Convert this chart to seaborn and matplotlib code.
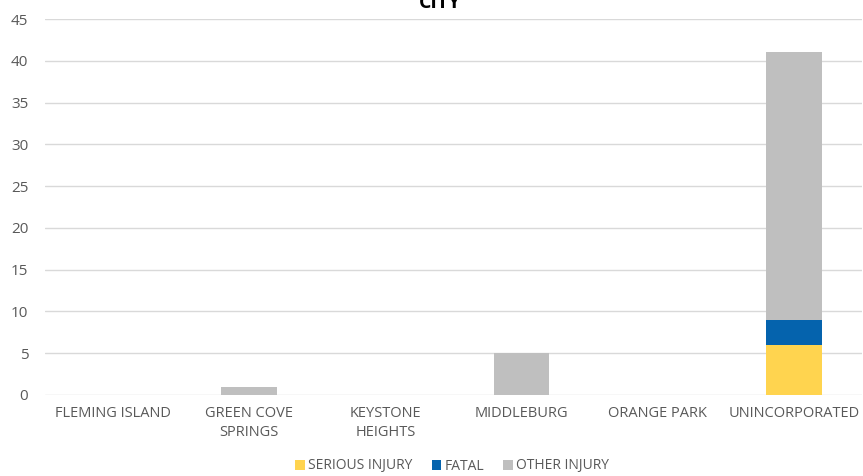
import matplotlib
matplotlib.use("Agg")
import matplotlib.pyplot as plt
import seaborn as sns
import pandas as pd
import numpy as np

cities = ["FLEMING ISLAND", "GREEN COVE\nSPRINGS", "KEYSTONE\nHEIGHTS", "MIDDLEBURG", "ORANGE PARK", "UNINCORPORATED"]
serious = [0, 0, 0, 0, 0, 6]
fatal = [0, 0, 0, 0, 0, 3]
other = [0, 1, 0, 5, 0, 32]

sns.set_theme(style="white")
plt.rcParams['font.family'] = ['Open Sans', 'DejaVu Sans']

fig = plt.figure(figsize=(8.63, 4.76), dpi=100)
ax = fig.add_axes([45/863, (476-395)/476, (862-45)/863, (395-19)/476])

df = pd.DataFrame({"city": cities, "serious": serious, "fatal": fatal, "other": other})
c_ser, c_fat, c_oth = "#FFD44F", "#0563AD", "#BFBFBF"
bw = 0.41
kw = dict(width=bw, ax=ax, saturation=1, linewidth=0, edgecolor="none")
sns.barplot(data=df, x="city", y="serious", color=c_ser, label="SERIOUS INJURY", **kw)
sns.barplot(data=df, x="city", y="fatal", color=c_fat, bottom=np.array(serious), label="FATAL", **kw)
sns.barplot(data=df, x="city", y="other", color=c_oth,
            bottom=np.array(serious) + np.array(fatal), label="OTHER INJURY", **kw)

ax.set_ylim(0, 45)
ax.set_xlim(-0.5, 5.5)
ax.set_yticks(range(0, 46, 5))
ax.yaxis.grid(True, color="#D9D9D9", linewidth=1)
ax.set_axisbelow(True)
for s in ax.spines.values():
    s.set_visible(False)
ax.set_xlabel("")
ax.set_ylabel("")
ax.tick_params(axis="both", length=0, labelsize=10.5, labelcolor="#595959")
ax.tick_params(axis="x", pad=8)
ax.tick_params(axis="y", pad=12, labelsize=11)
for t in ax.get_xticklabels():
    t.set_linespacing(1.35)
ax.legend().remove()

fig.text(440/863, 1 - 8/476, "CITY", ha="center", va="baseline", fontsize=14, fontweight="bold", color="#000000")

handles, labels = ax.get_legend_handles_labels()
fig.legend(handles, labels, loc="center", bbox_to_anchor=(452/863, 1 - 466/476), ncol=3, frameon=False,
           fontsize=10, labelcolor="#595959", handlelength=0.7, handleheight=0.7, handletextpad=0.2,
           columnspacing=1.4)

fig.savefig("out.png", dpi=100)
